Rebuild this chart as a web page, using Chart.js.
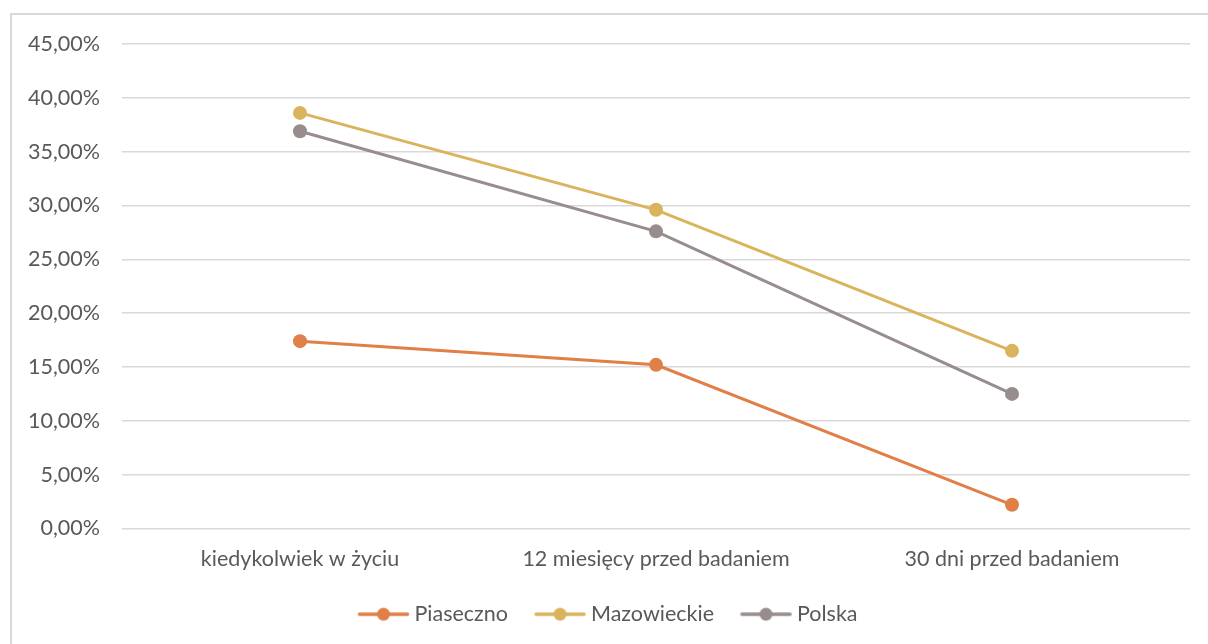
<!DOCTYPE html>
<html>
<head>
<meta charset="utf-8">
<script src="https://cdn.jsdelivr.net/npm/chart.js@4"></script>
<style>
  html, body { margin: 0; padding: 0; background: #fff; }
  #ramka { position: absolute; left: 10px; top: 13px; width: 1210px; height: 650px;
           border-left: 2px solid #d9d9d9; border-top: 2px solid #d9d9d9; }
  #wrap { position: absolute; left: 0; top: 0; width: 1208px; height: 644px; }
</style>
</head>
<body>
<div id="ramka"></div>
<div id="wrap"><canvas id="wykres" width="1208" height="644"></canvas></div>
<script>
const kategorie = ["kiedykolwiek w życiu", "12 miesięcy przed badaniem", "30 dni przed badaniem"];
const piaseczno = [17.4, 15.2, 2.2];
const mazowieckie = [38.6, 29.6, 16.5];
const polska = [36.9, 27.6, 12.5];

const kolory = {
  piaseczno: "#e07f47",
  mazowieckie: "#d9b45c",
  polska: "#978d8c"
};

const czcionka = "Lato, 'Open Sans', sans-serif";
const rozmiar = 21.5;

// ikonka legendy: kreska z kółkiem (przesunięta w prawo, bo chart.js centruje obrazek)
function ikonaLegendy(kolor) {
  const c = document.createElement("canvas");
  c.width = 64;
  c.height = 16;
  const ctx = c.getContext("2d");
  const x0 = 11.4;
  ctx.strokeStyle = kolor;
  ctx.lineWidth = 3.5;
  ctx.lineCap = "round";
  ctx.beginPath();
  ctx.moveTo(x0 + 2, 8);
  ctx.lineTo(x0 + 50, 8);
  ctx.stroke();
  ctx.fillStyle = kolor;
  ctx.beginPath();
  ctx.arc(x0 + 26, 8, 6.5, 0, Math.PI * 2);
  ctx.fill();
  return c;
}

function seria(nazwa, dane, kolor) {
  return {
    label: nazwa,
    data: dane,
    borderColor: kolor,
    backgroundColor: kolor,
    borderWidth: 3,
    pointStyle: "circle",
    pointRadius: 7,
    pointHoverRadius: 7,
    pointBackgroundColor: kolor,
    pointBorderWidth: 0,
    tension: 0
  };
}

const ctx = document.getElementById("wykres").getContext("2d");

new Chart(ctx, {
  type: "line",
  data: {
    labels: kategorie,
    datasets: [
      seria("Piaseczno", piaseczno, kolory.piaseczno),
      seria("Mazowieckie", mazowieckie, kolory.mazowieckie),
      seria("Polska", polska, kolory.polska)
    ]
  },
  options: {
    responsive: false,
    animation: false,
    layout: { padding: { top: 44, right: 18, bottom: 9, left: 20 } },
    plugins: {
      tooltip: { enabled: false },
      legend: {
        position: "bottom",
        labels: {
          usePointStyle: true,
          pointStyleWidth: 51.25,
          padding: 21,
          color: "#595959",
          font: { family: czcionka, size: rozmiar },
          generateLabels: (chart) => chart.data.datasets.map((ds, i) => ({
            text: ds.label,
            pointStyle: ikonaLegendy(ds.borderColor),
            fontColor: "#595959",
            fillStyle: ds.borderColor,
            strokeStyle: ds.borderColor,
            lineWidth: 0,
            hidden: false,
            datasetIndex: i
          }))
        }
      }
    },
    scales: {
      x: {
        offset: true,
        grid: { display: false },
        border: { display: false },
        afterFit: (scale) => { scale.height = 54; },
        ticks: {
          color: "#595959",
          padding: 10,
          font: { family: czcionka, size: rozmiar }
        }
      },
      y: {
        min: 0,
        max: 45,
        grid: { color: "#d9d9d9", lineWidth: 1.5, drawTicks: false },
        border: { display: false },
        afterFit: (scale) => { scale.width = 102; },
        ticks: {
          stepSize: 5,
          padding: 22,
          color: "#595959",
          font: { family: czcionka, size: rozmiar },
          callback: (v) => v.toFixed(2).replace(".", ",") + "%"
        }
      }
    }
  }
});
</script>
</body>
</html>
